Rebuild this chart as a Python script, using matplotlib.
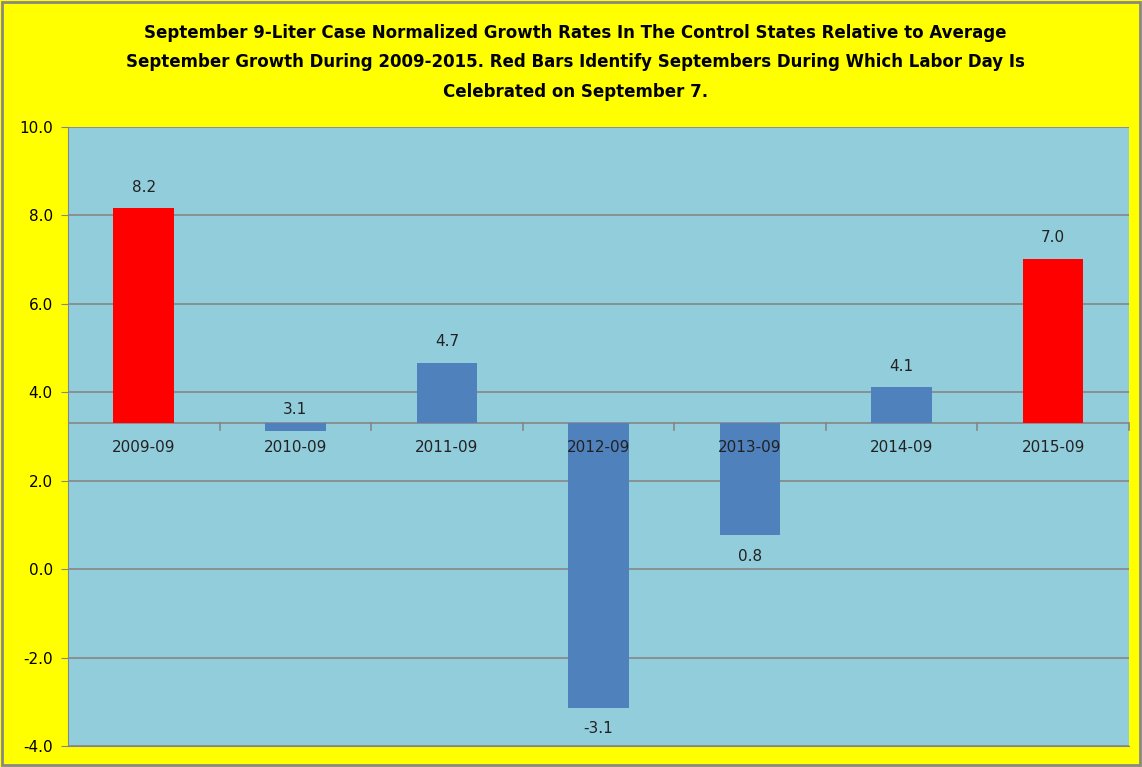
import matplotlib.pyplot as plt
import numpy as np

months = ["2009-09", "2010-09", "2011-09", "2012-09", "2013-09", "2014-09", "2015-09"]
growth = [8.16, 3.12, 4.66, -3.13, 0.77, 4.11, 7.02]
labor_day_sep7 = [True, False, False, False, False, False, True]
baseline = 3.3

title = ("September 9-Liter Case Normalized Growth Rates In The Control States Relative to Average\n"
         "September Growth During 2009-2015. Red Bars Identify Septembers During Which Labor Day Is\n"
         "Celebrated on September 7.")

fig = plt.figure(figsize=(11.42, 7.67), dpi=100, facecolor="#FFFF00")
ax = fig.add_axes([0.0595, 0.0274, 0.929, 0.807])
ax.set_facecolor("#92CDDC")

x = np.arange(len(months))
colors = ["#FF0000" if r else "#4F81BD" for r in labor_day_sep7]
heights = [g - baseline for g in growth]
bars = ax.bar(x, heights, width=0.4, bottom=baseline, color=colors, zorder=3)

# label above bar end, except where Excel put it below
below = [False, False, False, True, True, False, False]
for xi, g, b in zip(x, growth, below):
    off = -0.48 if b else 0.48
    ax.text(xi, g + off, f"{g:.1f}", ha="center", va="center", fontsize=11, color="#222222", zorder=4)

ax.set_xlim(-0.5, len(months) - 0.5)
ax.set_ylim(-4, 10)
ax.set_yticks(np.arange(-4, 11, 2))
ax.set_yticklabels([f"{v:.1f}" for v in np.arange(-4, 11, 2)], fontsize=11)
ax.yaxis.grid(True, color="#868686", linewidth=1.2, zorder=1)
ax.tick_params(axis="y", length=5, color="#868686", pad=6)
ax.set_xticks([])

# category axis at the baseline
ax.axhline(baseline, color="#868686", linewidth=1.2, zorder=2)
for b in np.arange(0.5, len(months) + 0.5, 1.0):
    ax.plot([b, b], [baseline, baseline - 0.15], color="#868686", linewidth=1.2, zorder=2, clip_on=False)
for xi, m in zip(x, months):
    ax.text(xi, baseline - 0.55, m, ha="center", va="center", fontsize=11, color="#222222")

for s in ["top", "right"]:
    ax.spines[s].set_visible(False)
ax.spines["left"].set_color("#868686")
ax.spines["bottom"].set_color("#868686")

fig.text(0.504, 0.919, title, ha="center", va="center", fontsize=12, fontweight="bold",
         linespacing=1.82)

border = plt.Rectangle((0.002, 0.002), 0.996, 0.996, transform=fig.transFigure,
                       fill=False, edgecolor="#888888", linewidth=2)
fig.patches.append(border)

fig.savefig("out.png", dpi=100, facecolor=fig.get_facecolor())
